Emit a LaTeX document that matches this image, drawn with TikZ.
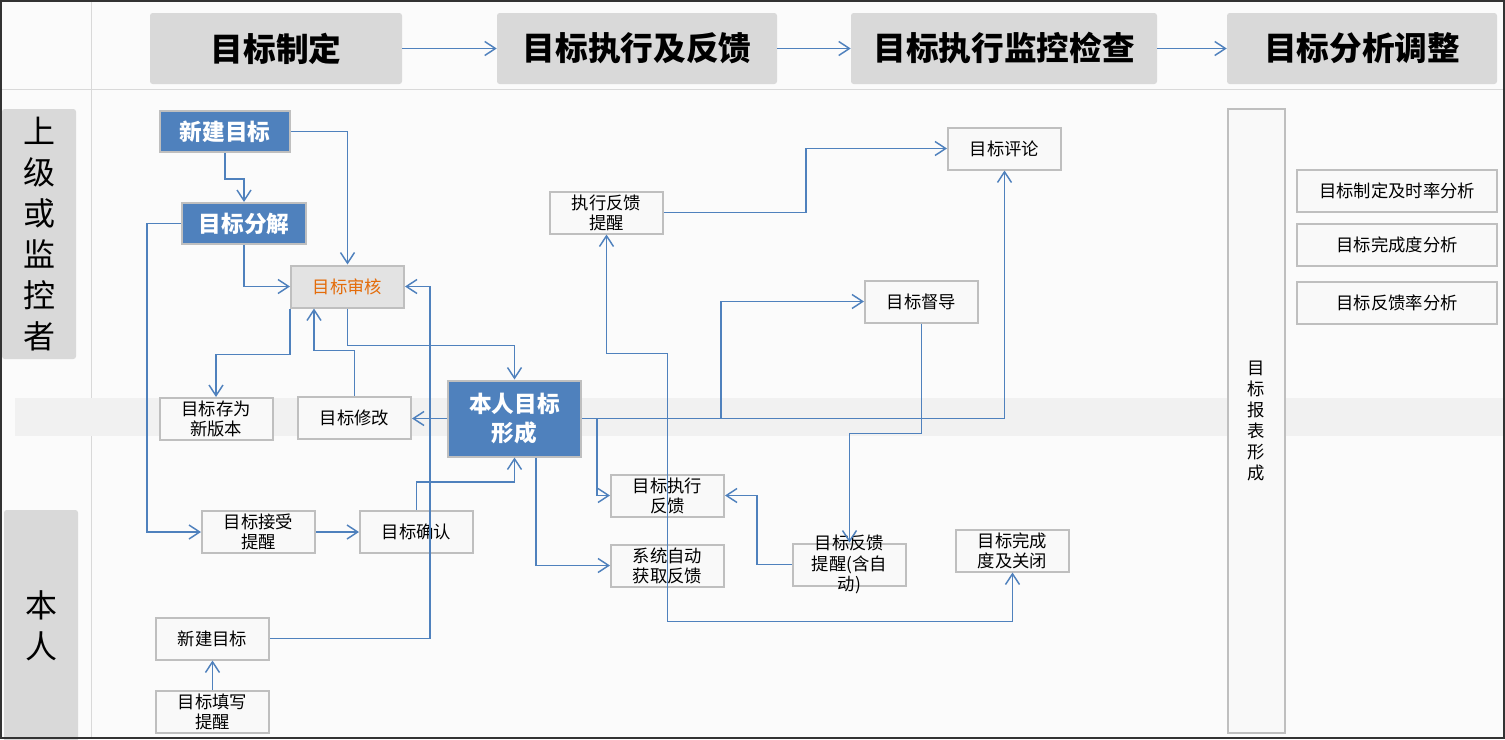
\documentclass[tikz,border=0pt]{standalone}
\usepackage{fontspec}
\setmainfont{Noto Sans CJK SC}
\usetikzlibrary{arrows.meta,calc}
\definecolor{flow}{HTML}{4F81BD}
\definecolor{boxline}{HTML}{BFBFBF}
\definecolor{headfill}{HTML}{D9D9D9}
\definecolor{bandfill}{HTML}{F1F1F1}
\definecolor{paper}{HTML}{FBFBFB}
\definecolor{boxfill}{HTML}{F9F9F9}
\definecolor{auditc}{HTML}{E46C0A}
\tikzset{
  stepbox/.style={draw=boxline, line width=1.5pt, fill=boxfill, align=center,
              minimum width=84.75pt, minimum height=31.5pt, inner xsep=1pt, inner ysep=1pt,
              font=\fontsize{13}{15}\selectfont},
  bluebox/.style={draw=boxline, line width=1.5pt, fill=flow, text=white, align=center,
              inner sep=1pt, font=\fontsize{17}{22}\selectfont\bfseries},
  headbox/.style={fill=headfill, rounded corners=2pt, minimum height=53.25pt,
              font=\fontsize{24.5}{28}\selectfont\bfseries},
  lanebox/.style={fill=headfill, rounded corners=2pt, minimum width=55.5pt, align=center,
              font=\fontsize{24}{30.75}\selectfont},
  sidebox/.style={stepbox, minimum width=150pt},
  flowline/.style={draw=flow, line width=1.1pt, -{Straight Barb[length=8pt,width=10.5pt]}},
}

\begin{document}
\begin{tikzpicture}[x=0.75pt, y=-0.75pt]
\useasboundingbox (0,0) rectangle (1505,739);
% paper, grid lines and the middle band
\fill[paper] (0,0) rectangle (1505,739);
\draw[headfill, line width=0.75pt] (91,0) -- (91,739);
\draw[headfill, line width=0.75pt] (0,89) -- (1505,89);
\fill[bandfill] (15,398) rectangle (1505,436);

% phases
\node[headbox, minimum width=189pt] (head1) at (276,48.5) {目标制定};
\node[headbox, minimum width=210pt] (head2) at (637,48.5) {目标执行及反馈};
\node[headbox, minimum width=229.5pt] (head3) at (1004,48.5) {目标执行监控检查};
\node[headbox, minimum width=202.5pt] (head4) at (1362,48.5) {目标分析调整};

% lanes
\node[lanebox, minimum height=187.5pt] (laneup) at (39,234) {上\\级\\或\\监\\控\\者};
\node[lanebox, minimum height=174pt] (lanelow) at (41,626) {本\\人};

% upper lane
\node[bluebox, minimum width=97.5pt, minimum height=30.75pt] (newgoal) at (225,131.5) {新建目标};
\node[bluebox, minimum width=93pt, minimum height=30.75pt] (split) at (244,223.5) {目标分解};
\node[stepbox, fill=black!11, text=auditc] (audit) at (347.5,286.5) {目标审核};
\node[stepbox] (saveas) at (216,419) {目标存为\\新版本};
\node[stepbox] (modify) at (354.5,417.5) {目标修改};
\node[bluebox, minimum width=99.75pt, minimum height=57pt] (own) at (514.5,418.5) {本人目标\\形成};
\node[stepbox] (remind) at (606.5,212.5) {执行反馈\\提醒};
\node[stepbox] (comment) at (1004.5,148.5) {目标评论};
\node[stepbox] (supervise) at (921.5,301.5) {目标督导};

% lower lane
\node[stepbox] (execfb) at (667.5,495.5) {目标执行\\反馈};
\node[stepbox] (autofb) at (667.5,565.5) {系统自动\\获取反馈};
\node[stepbox] (fbremind) at (849.5,564.5) {};
\node[font=\fontsize{13}{15.5}\selectfont, align=center] at (fbremind) {目标反馈\\提醒(含自\\动)};
\node[stepbox] (done) at (1012.5,550.5) {目标完成\\度及关闭};
\node[stepbox] (accept) at (258.5,532) {目标接受\\提醒};
\node[stepbox] (confirm) at (416.5,532) {目标确认};
\node[stepbox] (newlow) at (212.5,638.5) {新建目标};
\node[stepbox] (fillin) at (212.5,712) {目标填写\\提醒};

% analysis column
\node[stepbox, minimum width=42.75pt, minimum height=468pt, font=\fontsize{13}{15.75}\selectfont]
  (report) at (1256.5,421) {目\\标\\报\\表\\形\\成};
\node[sidebox] (ana1) at (1397,190.5) {目标制定及时率分析};
\node[sidebox] (ana2) at (1397,245) {目标完成度分析};
\node[sidebox] (ana3) at (1397,302.5) {目标反馈率分析};

% phase arrows
\draw[flowline] (head1) -- (head2);
\draw[flowline] (head2) -- (head3);
\draw[flowline] (head3) -- (head4);

% connectors
\draw[flowline] (newgoal.south) -- ++(0,26) -| (split.north);
\draw[flowline] (newgoal.east) -| (audit.north);
\draw[flowline] (split.south) |- (audit.west);
\draw[flowline] (split.west) -- ++(-34,0) |- (accept.west);
\draw[flowline] (audit.south west) -- ++(0,46) -| (saveas.north);
\draw[flowline] (modify.north) -- ++(0,-45) -| ($(audit.south west)+(24,0)$);
\draw[flowline] (audit.south) -- ++(0,37) -| (own.north);
\draw[flowline] (own.west) -- (own.west -| modify.east);
\draw[flowline] (newlow.east) -- ++(160,0) |- (audit.east);
\draw[flowline] (accept.east) -- (confirm.west);
\draw[flowline] (confirm.north) -- ++(0,-28) -| (own.south);
\draw[flowline] (fillin.north) -- (newlow.south);
\draw[flowline] (own.east) -- ++(139,0) |- (supervise.west);
\draw[flowline] (own.east) -| (comment.south);
\draw[flowline] (own.east) -- ++(15,0) |- (execfb.west);
\draw[flowline] ($(own.south)+(21.5,0)$) |- (autofb.west);
\draw[flowline, {Straight Barb[length=8pt,width=10.5pt]}-{Straight Barb[length=8pt,width=10.5pt]}]
  (remind.south) -- ++(0,119) -| ++(61,268) -| (done.south);
\draw[flowline] (remind.east) -- ++(142,0) |- (comment.west);
\draw[flowline] (supervise.south) -- ++(0,110) -| (fbremind.north);
\draw[flowline] (fbremind.west) -- ++(-35,0) |- (execfb.east);

% frame
\draw[black!80, line width=1.2pt] (0.8,0.8) rectangle (1504.2,738.2);
\end{tikzpicture}
\end{document}
